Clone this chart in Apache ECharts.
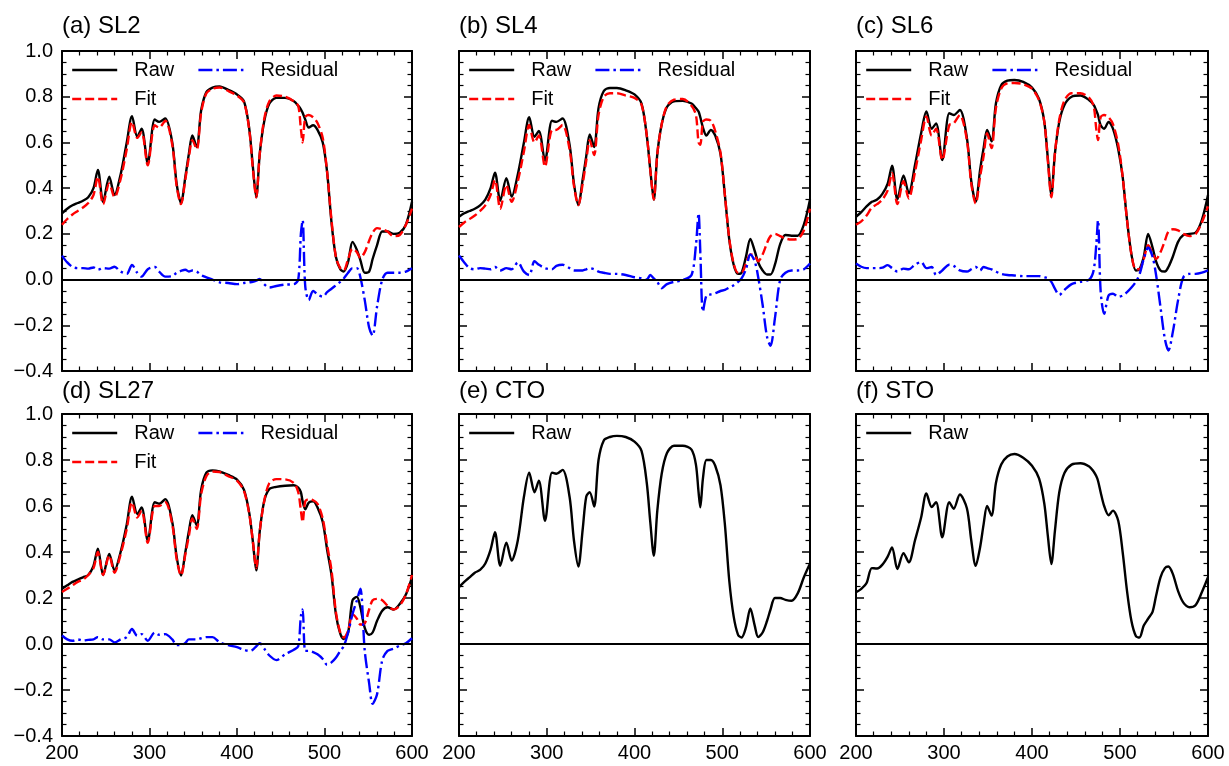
<!DOCTYPE html>
<html>
<head>
<meta charset="utf-8">
<title>Raw / Fit / Residual spectra</title>
<script src="https://cdn.jsdelivr.net/npm/echarts@6/dist/echarts.min.js"></script>
<style>
	html, body { margin: 0; padding: 0; background: #fff; }
	#main { width: 1229px; height: 766px; }
</style>
</head>
<body>
<div id="main"></div>
<script>
// wavelength grid shared by every curve
var wl = [200, 206, 212, 218, 224, 230, 236, 241, 247, 254,
	260, 267, 274, 280, 286, 291, 298, 306, 311, 318,
	326, 331, 336, 341, 345, 349, 354, 359, 365, 372,
	380, 390, 400, 408, 414, 418, 422, 426, 431, 437,
	445, 455, 465, 470, 473, 475, 478, 482, 487, 492,
	498, 503, 508, 513, 518, 522, 527, 532, 537, 541,
	546, 551, 555, 560, 566, 572, 579, 586, 593, 600];

var xTicks = [200, 300, 400, 500, 600];
var yTicks = [-0.4, -0.2, 0.0, 0.2, 0.4, 0.6, 0.8, 1.0];

// (a) SL2
var rawA = [0.29, 0.31, 0.325, 0.335, 0.345, 0.36, 0.40, 0.48, 0.34, 0.45,
	0.37, 0.46, 0.60, 0.715, 0.625, 0.66, 0.51, 0.70, 0.69, 0.705,
	0.60, 0.42, 0.335, 0.45, 0.55, 0.63, 0.58, 0.74, 0.82, 0.84,
	0.845, 0.83, 0.81, 0.78, 0.66, 0.50, 0.36, 0.55, 0.69, 0.77,
	0.795, 0.795, 0.78, 0.76, 0.745, 0.73, 0.70, 0.665, 0.675, 0.655,
	0.60, 0.47, 0.25, 0.10, 0.045, 0.035, 0.078, 0.165, 0.13, 0.085,
	0.03, 0.035, 0.09, 0.15, 0.21, 0.21, 0.20, 0.205, 0.24, 0.34];
var fitA = [0.24, 0.265, 0.285, 0.30, 0.315, 0.335, 0.37, 0.45, 0.33, 0.42,
	0.36, 0.44, 0.57, 0.69, 0.62, 0.645, 0.50, 0.675, 0.665, 0.695,
	0.59, 0.41, 0.33, 0.44, 0.535, 0.61, 0.57, 0.73, 0.815, 0.835,
	0.84, 0.825, 0.805, 0.775, 0.655, 0.49, 0.36, 0.55, 0.70, 0.78,
	0.805, 0.80, 0.78, 0.76, 0.66, 0.60, 0.71, 0.72, 0.71, 0.685,
	0.62, 0.47, 0.26, 0.10, 0.05, 0.04, 0.09, 0.135, 0.12, 0.095,
	0.12, 0.17, 0.205, 0.225, 0.22, 0.21, 0.19, 0.195, 0.24, 0.31];
var resA = [0.105, 0.075, 0.055, 0.05, 0.05, 0.048, 0.053, 0.043, 0.05, 0.048,
	0.056, 0.035, 0.025, 0.064, 0.03, 0.013, 0.045, 0.055, 0.035, 0.013,
	0.015, 0.03, 0.038, 0.043, 0.035, 0.04, 0.035, 0.02, 0.01, 0.0,
	-0.012, -0.015, -0.02, -0.015, -0.012, -0.01, -0.005, 0.003, -0.02, -0.035,
	-0.028, -0.022, -0.02, 0.0, 0.2, 0.26, -0.03, -0.09, -0.05, -0.065,
	-0.075, -0.055, -0.04, -0.025, -0.01, 0.005, 0.03, 0.05, 0.05, 0.01,
	-0.09, -0.21, -0.245, -0.12, 0.0, 0.03, 0.03, 0.03, 0.035, 0.05];

// (b) SL4
var rawB = [0.275, 0.29, 0.30, 0.31, 0.325, 0.35, 0.40, 0.468, 0.345, 0.443,
	0.363, 0.46, 0.60, 0.71, 0.625, 0.65, 0.52, 0.695, 0.69, 0.705,
	0.59, 0.42, 0.326, 0.44, 0.54, 0.635, 0.58, 0.75, 0.825, 0.838,
	0.838, 0.828, 0.81, 0.77, 0.63, 0.48, 0.35, 0.55, 0.68, 0.755,
	0.78, 0.782, 0.77, 0.75, 0.735, 0.71, 0.665, 0.63, 0.655, 0.63,
	0.55, 0.37, 0.175, 0.065, 0.025, 0.03, 0.10, 0.178, 0.125, 0.075,
	0.04, 0.022, 0.022, 0.065, 0.155, 0.195, 0.192, 0.192, 0.24, 0.35];
var fitB = [0.23, 0.25, 0.265, 0.28, 0.30, 0.325, 0.37, 0.436, 0.31, 0.414,
	0.34, 0.43, 0.56, 0.676, 0.60, 0.63, 0.494, 0.654, 0.655, 0.676,
	0.57, 0.41, 0.326, 0.42, 0.52, 0.61, 0.545, 0.72, 0.80, 0.815,
	0.815, 0.805, 0.795, 0.765, 0.63, 0.48, 0.35, 0.55, 0.68, 0.76,
	0.787, 0.79, 0.76, 0.72, 0.60, 0.59, 0.69, 0.70, 0.695, 0.65,
	0.555, 0.37, 0.18, 0.07, 0.03, 0.03, 0.07, 0.11, 0.105, 0.08,
	0.11, 0.16, 0.19, 0.20, 0.19, 0.18, 0.175, 0.178, 0.215, 0.31];
var resB = [0.105, 0.075, 0.05, 0.045, 0.05, 0.048, 0.045, 0.055, 0.04, 0.05,
	0.045, 0.075, 0.035, 0.02, 0.08, 0.065, 0.05, 0.045, 0.06, 0.065,
	0.05, 0.04, 0.04, 0.04, 0.045, 0.05, 0.045, 0.035, 0.03, 0.025,
	0.025, 0.02, 0.01, 0.006, 0.0, 0.02, 0.005, -0.01, -0.038, -0.02,
	-0.01, -0.002, 0.02, 0.15, 0.29, 0.12, -0.14, -0.07, -0.065, -0.06,
	-0.05, -0.045, -0.035, -0.025, -0.01, 0.005, 0.045, 0.11, 0.08, 0.01,
	-0.11, -0.25, -0.29, -0.17, 0.0, 0.03, 0.04, 0.04, 0.045, 0.07];

// (c) SL6
var rawC = [0.275, 0.295, 0.32, 0.34, 0.35, 0.375, 0.42, 0.498, 0.35, 0.455,
	0.378, 0.50, 0.64, 0.735, 0.66, 0.683, 0.523, 0.728, 0.72, 0.742,
	0.62, 0.43, 0.34, 0.48, 0.575, 0.655, 0.605, 0.77, 0.85, 0.87,
	0.873, 0.865, 0.84, 0.79, 0.69, 0.53, 0.37, 0.55, 0.69, 0.765,
	0.80, 0.805, 0.785, 0.765, 0.74, 0.72, 0.675, 0.66, 0.69, 0.66,
	0.57, 0.45, 0.26, 0.11, 0.04, 0.045, 0.10, 0.20, 0.14, 0.08,
	0.04, 0.035, 0.055, 0.10, 0.165, 0.195, 0.20, 0.205, 0.26, 0.37];
var fitC = [0.24, 0.255, 0.28, 0.315, 0.33, 0.35, 0.39, 0.465, 0.33, 0.43,
	0.355, 0.47, 0.61, 0.714, 0.63, 0.66, 0.523, 0.676, 0.683, 0.72,
	0.61, 0.42, 0.333, 0.45, 0.54, 0.64, 0.575, 0.75, 0.835, 0.858,
	0.86, 0.855, 0.835, 0.785, 0.69, 0.52, 0.36, 0.55, 0.70, 0.785,
	0.815, 0.815, 0.795, 0.76, 0.66, 0.61, 0.71, 0.72, 0.71, 0.68,
	0.59, 0.45, 0.26, 0.11, 0.045, 0.045, 0.09, 0.15, 0.115, 0.09,
	0.12, 0.17, 0.21, 0.22, 0.215, 0.20, 0.19, 0.20, 0.25, 0.32];
var resC = [0.07, 0.056, 0.05, 0.05, 0.05, 0.052, 0.063, 0.05, 0.035, 0.048,
	0.045, 0.065, 0.077, 0.05, 0.055, 0.02, 0.04, 0.065, 0.06, 0.04,
	0.035, 0.045, 0.055, 0.04, 0.055, 0.05, 0.045, 0.035, 0.025, 0.02,
	0.018, 0.015, 0.015, 0.015, 0.01, 0.005, -0.01, -0.04, -0.067, -0.045,
	-0.02, -0.01, 0.0, 0.04, 0.15, 0.26, -0.05, -0.15, -0.07, -0.062,
	-0.075, -0.07, -0.055, -0.035, -0.01, 0.02, 0.09, 0.14, 0.10, 0.02,
	-0.12, -0.26, -0.31, -0.23, -0.09, 0.01, 0.025, 0.025, 0.03, 0.04];

// (d) SL27
var rawD = [0.24, 0.255, 0.27, 0.28, 0.29, 0.30, 0.34, 0.414, 0.30, 0.392,
	0.32, 0.40, 0.52, 0.64, 0.565, 0.594, 0.45, 0.616, 0.61, 0.63,
	0.53, 0.38, 0.298, 0.40, 0.49, 0.56, 0.515, 0.67, 0.745, 0.755,
	0.75, 0.735, 0.715, 0.67, 0.57, 0.45, 0.32, 0.49, 0.62, 0.674,
	0.683, 0.688, 0.69, 0.68, 0.66, 0.62, 0.586, 0.615, 0.62, 0.594,
	0.53, 0.41, 0.30, 0.13, 0.045, 0.022, 0.05, 0.19, 0.205, 0.16,
	0.07, 0.04, 0.05, 0.10, 0.145, 0.16, 0.15, 0.174, 0.215, 0.29];
var fitD = [0.226, 0.24, 0.255, 0.27, 0.28, 0.30, 0.33, 0.40, 0.30, 0.385,
	0.31, 0.39, 0.50, 0.616, 0.55, 0.58, 0.44, 0.60, 0.60, 0.616,
	0.52, 0.37, 0.298, 0.39, 0.47, 0.546, 0.50, 0.65, 0.73, 0.75,
	0.748, 0.73, 0.71, 0.665, 0.565, 0.45, 0.33, 0.49, 0.62, 0.70,
	0.717, 0.716, 0.70, 0.66, 0.58, 0.53, 0.62, 0.63, 0.625, 0.61,
	0.545, 0.43, 0.32, 0.14, 0.05, 0.028, 0.058, 0.13, 0.11, 0.085,
	0.09, 0.15, 0.19, 0.196, 0.19, 0.167, 0.15, 0.167, 0.215, 0.30];
var resD = [0.037, 0.02, 0.014, 0.02, 0.015, 0.018, 0.02, 0.03, 0.02, 0.02,
	0.007, 0.02, 0.03, 0.065, 0.036, 0.043, 0.014, 0.05, 0.04, 0.043,
	0.02, -0.005, -0.005, 0.005, 0.02, 0.02, 0.02, 0.025, 0.03, 0.03,
	0.008, -0.005, -0.014, -0.025, -0.03, -0.025, -0.01, 0.004, -0.02, -0.05,
	-0.07, -0.045, -0.025, -0.01, 0.12, 0.15, -0.03, -0.03, -0.035, -0.045,
	-0.065, -0.09, -0.08, -0.06, -0.03, -0.01, 0.05, 0.13, 0.19, 0.24,
	-0.03, -0.17, -0.26, -0.22, -0.07, -0.03, -0.02, -0.007, 0.003, 0.025];

// (e) CTO, (f) STO: raw only
var rawE = [0.247, 0.27, 0.29, 0.31, 0.322, 0.35, 0.41, 0.486, 0.34, 0.44,
	0.363, 0.45, 0.64, 0.745, 0.66, 0.71, 0.536, 0.745, 0.74, 0.757,
	0.64, 0.45, 0.337, 0.50, 0.64, 0.66, 0.598, 0.80, 0.885, 0.90,
	0.905, 0.90, 0.88, 0.84, 0.70, 0.53, 0.384, 0.58, 0.74, 0.83,
	0.862, 0.862, 0.845, 0.78, 0.66, 0.594, 0.72, 0.80, 0.80, 0.775,
	0.69, 0.52, 0.275, 0.12, 0.04, 0.028, 0.072, 0.155, 0.08, 0.03,
	0.05, 0.10, 0.15, 0.20, 0.20, 0.192, 0.188, 0.22, 0.29, 0.35];
var rawF = [0.225, 0.24, 0.265, 0.33, 0.328, 0.345, 0.38, 0.42, 0.326, 0.395,
	0.355, 0.45, 0.55, 0.655, 0.595, 0.617, 0.464, 0.617, 0.588, 0.65,
	0.59, 0.45, 0.34, 0.42, 0.52, 0.60, 0.558, 0.70, 0.78, 0.815,
	0.826, 0.81, 0.775, 0.72, 0.61, 0.47, 0.348, 0.49, 0.66, 0.745,
	0.78, 0.786, 0.772, 0.75, 0.73, 0.71, 0.66, 0.60, 0.56, 0.58,
	0.536, 0.40, 0.23, 0.10, 0.035, 0.028, 0.08, 0.11, 0.14, 0.21,
	0.29, 0.33, 0.337, 0.305, 0.23, 0.18, 0.16, 0.17, 0.225, 0.29];

var panels = [
	{ title: '(a) SL2', raw: rawA, fit: fitA, res: resA },
	{ title: '(b) SL4', raw: rawB, fit: fitB, res: resB },
	{ title: '(c) SL6', raw: rawC, fit: fitC, res: resC },
	{ title: '(d) SL27', raw: rawD, fit: fitD, res: resD },
	{ title: '(e) CTO', raw: rawE },
	{ title: '(f) STO', raw: rawF }
];

var FONT = '"Liberation Sans", Arial, sans-serif';
var colLeft = [62, 459, 856];
var colWidth = [350, 351, 352];
var rowTop = [51, 414];
var rowHeight = [320, 322];

var LW = 2.4; //curve width

function pairs(vals) {
	var out = [];
	for (var i = 0; i < wl.length; i++) {
		out.push([wl[i], vals[i]]);
	}
	return out;
}

function yLabel(v) {
	if (Math.abs(v) < 1e-9) return '0.0';
	return v.toFixed(1).replace('-', '\u2212'); //matplotlib style minus
}

function makeAxis(dim, gi, pos, showLabel) {
	var isX = dim === 'x';
	return {
		type: 'value',
		gridIndex: gi,
		position: pos,
		min: isX ? xTicks[0] : yTicks[0],
		max: isX ? xTicks[xTicks.length - 1] : yTicks[yTicks.length - 1],
		interval: isX ? 100 : 0.2,
		axisLine: { show: true, onZero: false, lineStyle: { color: '#000', width: 2 } },
		axisTick: { show: true, inside: true, length: 8, lineStyle: { color: '#000', width: 1.5 } },
		minorTick: { show: true, splitNumber: isX ? 5 : 4, length: 4.5, lineStyle: { color: '#000', width: 1.2 } },
		splitLine: { show: false },
		minorSplitLine: { show: false },
		axisLabel: {
			show: showLabel,
			color: '#000',
			fontSize: 20,
			fontFamily: FONT,
			margin: isX ? 7 : 9,
			showMinLabel: true,
			showMaxLabel: true,
			formatter: isX ? function(v) { return String(v); } : yLabel
		}
	};
}

var grids = [], xAxes = [], yAxes = [], titles = [], legends = [], series = [];

panels.forEach(function(p, i) {
	var row = Math.floor(i / 3), col = i % 3;
	var gl = colLeft[col], gt = rowTop[row];
	grids.push({
		left: gl, top: gt, width: colWidth[col], height: rowHeight[row],
		outerBoundsMode: 'none', show: false
	});
	// bottom / left axes carry the data, top / right axes only mirror the ticks
	xAxes.push(makeAxis('x', i, 'bottom', row === 1));
	xAxes.push(makeAxis('x', i, 'top', false));
	yAxes.push(makeAxis('y', i, 'left', col === 0));
	yAxes.push(makeAxis('y', i, 'right', false));

	titles.push({
		text: p.title, left: gl, top: row === 0 ? 14 : 379, padding: 0,
		textStyle: { fontSize: 24, fontWeight: 'normal', color: '#000', fontFamily: FONT }
	});

	var legendBase = {
		orient: 'horizontal', left: gl + 9, padding: 0,
		itemWidth: 45, itemHeight: 14, itemGap: 23,
		textStyle: { fontSize: 20, color: '#000', fontFamily: FONT, padding: [0, 0, 0, 12] },
		lineStyle: { width: LW },
		itemStyle: { opacity: 0 }, //hide the marker, keep the line sample
		selectedMode: false
	};
	if (p.fit) {
		legends.push(Object.assign({}, legendBase, { top: gt + 9, data: ['Raw', 'Residual'] }));
		legends.push(Object.assign({}, legendBase, { top: gt + 38, data: ['Fit'] }));
	} else {
		legends.push(Object.assign({}, legendBase, { top: gt + 9, data: ['Raw'] }));
	}

	var xi = i * 2, yi = i * 2;
	series.push({
		name: 'Raw', type: 'line', xAxisIndex: xi, yAxisIndex: yi,
		data: pairs(p.raw), symbol: 'none', smooth: 0.3, z: 3,
		lineStyle: { color: '#000', width: LW },
		itemStyle: { color: '#000' },
		markLine: {
			silent: true, symbol: ['none', 'none'], label: { show: false },
			lineStyle: { color: '#000', width: 2.2, type: 'solid' },
			data: [{ yAxis: 0 }]
		}
	});
	if (p.fit) {
		series.push({
			name: 'Fit', type: 'line', xAxisIndex: xi, yAxisIndex: yi,
			data: pairs(p.fit), symbol: 'none', smooth: 0.3, z: 4,
			lineStyle: { color: '#ff0000', width: LW, type: [9, 4] },
			itemStyle: { color: '#ff0000' }
		});
		series.push({
			name: 'Residual', type: 'line', xAxisIndex: xi, yAxisIndex: yi,
			data: pairs(p.res), symbol: 'none', smooth: 0.3, z: 4,
			lineStyle: { color: '#0000ff', width: LW, type: [14, 4, 2.5, 4] },
			itemStyle: { color: '#0000ff' }
		});
	}
});

var chart = echarts.init(document.getElementById('main'), null, { renderer: 'canvas' });
chart.setOption({
	backgroundColor: '#fff',
	animation: false,
	title: titles,
	legend: legends,
	grid: grids,
	xAxis: xAxes,
	yAxis: yAxes,
	series: series
});
</script>
</body>
</html>
